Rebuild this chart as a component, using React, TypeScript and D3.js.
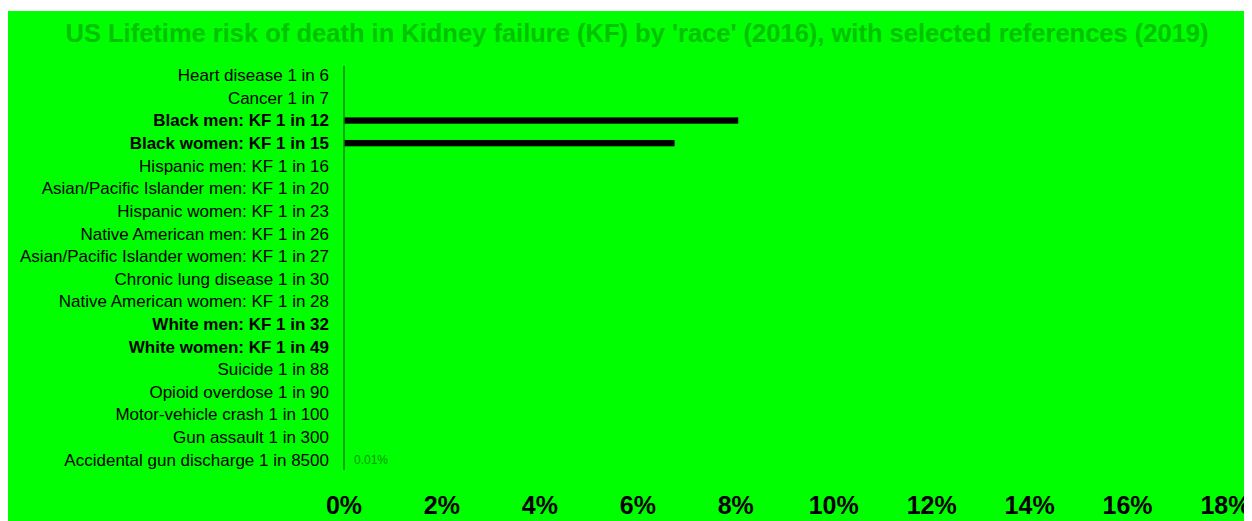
import { useEffect, useRef } from 'react'
import * as d3 from 'd3'

const categories = [
  'Heart disease 1 in 6',
  'Cancer 1 in 7',
  'Black men: KF 1 in 12',
  'Black women: KF 1 in 15',
  'Hispanic men: KF 1 in 16',
  'Asian/Pacific Islander men: KF 1 in 20',
  'Hispanic women: KF 1 in 23',
  'Native American men: KF 1 in 26',
  'Asian/Pacific Islander women: KF 1 in 27',
  'Chronic lung disease 1 in 30',
  'Native American women: KF 1 in 28',
  'White men: KF 1 in 32',
  'White women: KF 1 in 49',
  'Suicide 1 in 88',
  'Opioid overdose 1 in 90',
  'Motor-vehicle crash 1 in 100',
  'Gun assault 1 in 300',
  'Accidental gun discharge 1 in 8500',
]

// percent risk
const values = [16.7, 14.3, 8.05, 6.75, 6.25, 5.0, 4.35, 3.85, 3.7, 3.33, 3.57, 3.13, 2.04, 1.14, 1.11, 1.0, 0.33, 0.01]
const highlighted = [false, false, true, true, false, false, false, false, false, false, false, true, true, false, false, false, false, false]
const visibleBar = [false, false, true, true, false, false, false, false, false, false, false, false, false, false, false, false, false, false]
const xTicks = [0, 2, 4, 6, 8, 10, 12, 14, 16, 18]
const title = "US Lifetime risk of death in Kidney failure (KF) by 'race' (2016), with selected references (2019)"

const BG = '#00ff00'
const FONT = 'Liberation Sans, Arial, sans-serif'

export default function App() {
  const svgRef = useRef<SVGSVGElement>(null)
  const width = 1244
  const height = 513

  useEffect(() => {
    if (!svgRef.current) return
    const svg = d3.select(svgRef.current)
    svg.selectAll('*').remove()

    svg.append('rect')
      .attr('x', 0).attr('y', 3)
      .attr('width', width).attr('height', height)
      .attr('fill', BG)

    svg.append('text')
      .attr('x', 629).attr('y', 25)
      .attr('dy', '0.35em')
      .attr('text-anchor', 'middle')
      .style('font-family', FONT)
      .style('font-size', '25.5px')
      .style('font-weight', 'bold')
      .style('fill', '#00c200')
      .text(title)

    const x = d3.scaleLinear().domain([0, 18]).range([336, 1217.5])
    const y = d3.scaleBand().domain(categories).range([56, 463]).paddingInner(0.72).paddingOuter(0.36)

    const g = svg.append('g')

    g.selectAll('.bar')
      .data(categories)
      .enter().append('rect')
      .attr('class', 'bar')
      .attr('x', x(0))
      .attr('y', d => y(d)!)
      .attr('width', (d, i) => x(values[i]) - x(0))
      .attr('height', y.bandwidth())
      .attr('fill', (d, i) => visibleBar[i] ? '#000' : BG)

    g.selectAll('.lbl')
      .data(categories)
      .enter().append('text')
      .attr('class', 'lbl')
      .attr('x', x(0) - 15)
      .attr('y', d => y(d)! + y.bandwidth() / 2)
      .attr('dy', '0.35em')
      .attr('text-anchor', 'end')
      .style('font-family', FONT)
      .style('font-size', '17px')
      .style('font-weight', (d, i) => highlighted[i] ? 'bold' : 'normal')
      .style('fill', '#000')
      .text(d => d)

    // axis line
    g.append('line')
      .attr('x1', x(0)).attr('x2', x(0))
      .attr('y1', 58).attr('y2', 462)
      .attr('stroke', '#008a00')
      .attr('stroke-width', 1.5)

    // tiny value label
    const last = categories[categories.length - 1]
    g.append('text')
      .attr('x', x(0) + 10)
      .attr('y', y(last)! + y.bandwidth() / 2)
      .attr('dy', '0.35em')
      .style('font-family', FONT)
      .style('font-size', '12px')
      .style('fill', '#009900')
      .text('0.01%')

    g.selectAll('.tick')
      .data(xTicks)
      .enter().append('text')
      .attr('class', 'tick')
      .attr('x', d => x(d))
      .attr('y', 497)
      .attr('dy', '0.35em')
      .attr('text-anchor', 'middle')
      .style('font-family', FONT)
      .style('font-size', '25px')
      .style('font-weight', 'bold')
      .style('fill', '#000')
      .text(d => `${d}%`)
  }, [])

  return <svg ref={svgRef} width={width} height={height} style={{ display: 'block', overflow: 'visible' }}></svg>
}
